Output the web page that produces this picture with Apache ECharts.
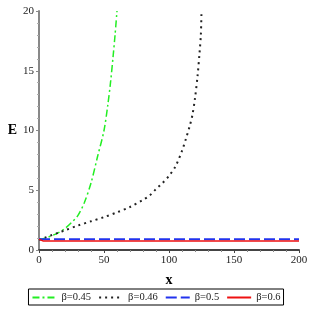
<!DOCTYPE html>
<html><head><meta charset="utf-8">
<script src="https://cdn.jsdelivr.net/npm/echarts@6/dist/echarts.min.js"></script>
<style>html,body{margin:0;padding:0;background:#fff}#c{width:312px;height:312px}</style>
</head><body><div id="c"></div>
<script>
const names = ['β=0.45', 'β=0.46', 'β=0.5', 'β=0.6'];
const xG = [0, 2, 5, 10, 15, 20, 25, 30, 35, 40, 45, 50, 53, 55, 57, 58.5, 60];
const yG = [0.85, 0.92, 1.0, 1.2, 1.45, 1.8, 2.3, 2.9, 4.0, 5.6, 7.8, 10.0, 12.2, 14.0, 16.2, 18.0, 20];
const xK = [0, 5, 10, 15, 20, 30, 40, 50, 60, 70, 80, 85, 90, 95, 100, 105, 110, 113, 116, 118, 120, 122, 123.5, 124.5, 125];
const yK = [0.85, 1.05, 1.25, 1.45, 1.65, 2.05, 2.4, 2.75, 3.15, 3.6, 4.2, 4.55, 5.1, 5.6, 6.2, 7.0, 8.3, 9.3, 10.4, 11.3, 12.7, 14.6, 16.5, 18.0, 20];
const xB = [0, 200];
const yB = [0.9, 0.9];
const xR = [0, 1, 3, 200];
const yR = [0.9, 0.82, 0.76, 0.76];
const xTicks = [0, 50, 100, 150, 200];
const yTicks = [0, 5, 10, 15, 20];

const zip = (a, b) => a.map((v, i) => [v, b[i]]);
const serif = 'Liberation Serif';
const chart = echarts.init(document.getElementById('c'));
chart.setOption({
  animation: false,
  grid: { left: 39, right: 13, top: 11, bottom: 62 },
  xAxis: {
    type: 'value', min: xTicks[0], max: xTicks[xTicks.length - 1], interval: 50,
    name: 'x', nameLocation: 'middle', nameGap: 23,
    nameTextStyle: { fontFamily: serif, fontWeight: 'bold', fontSize: 14, color: '#000' },
    axisLine: { lineStyle: { color: '#444', width: 2 } },
    axisTick: { show: true, length: 3, lineStyle: { color: '#444' } },
    minorTick: { show: true, splitNumber: 5, length: 2, lineStyle: { color: '#888' } },
    axisLabel: { fontFamily: serif, fontSize: 11, color: '#222', margin: 5 },
    splitLine: { show: false }
  },
  yAxis: {
    type: 'value', min: yTicks[0], max: yTicks[yTicks.length - 1], interval: 5,
    name: 'E', nameLocation: 'middle', nameGap: 22, nameRotate: 0,
    nameTextStyle: { fontFamily: serif, fontWeight: 'bold', fontSize: 14, color: '#000' },
    axisLine: { show: true, lineStyle: { color: '#888', width: 2 } },
    axisTick: { show: true, length: 3, lineStyle: { color: '#888' } },
    minorTick: { show: true, splitNumber: 5, length: 2, lineStyle: { color: '#aaa' } },
    axisLabel: { fontFamily: serif, fontSize: 11, color: '#222', margin: 5 },
    splitLine: { show: false }
  },
  legend: {
    bottom: 7, left: 'center',
    data: names,
    borderColor: '#000', borderWidth: 1, borderRadius: 0,
    padding: [3, 3, 2, 3],
    itemWidth: 24, itemHeight: 10, itemGap: 7,
    itemStyle: { opacity: 0 },
    textStyle: { fontFamily: serif, fontSize: 10.5, color: '#222' }
  },
  series: [
    { name: names[0], type: 'line', data: zip(xG, yG), symbol: 'none', smooth: 0.3,
      lineStyle: { color: '#22ee22', width: 1.5, type: [7, 3, 2, 3] }, itemStyle: { color: '#22ee22' } },
    { name: names[1], type: 'line', data: zip(xK, yK), symbol: 'none', smooth: 0.3,
      lineStyle: { color: '#222', width: 2, type: [2, 4] }, itemStyle: { color: '#222' } },
    { name: names[2], type: 'line', data: zip(xB, yB), symbol: 'none',
      lineStyle: { color: '#2233ee', width: 2, type: [11, 4] }, itemStyle: { color: '#2233ee' } },
    { name: names[3], type: 'line', data: zip(xR, yR), symbol: 'none',
      lineStyle: { color: '#ee1111', width: 1.5 }, itemStyle: { color: '#ee1111' } }
  ]
});
</script></body></html>
